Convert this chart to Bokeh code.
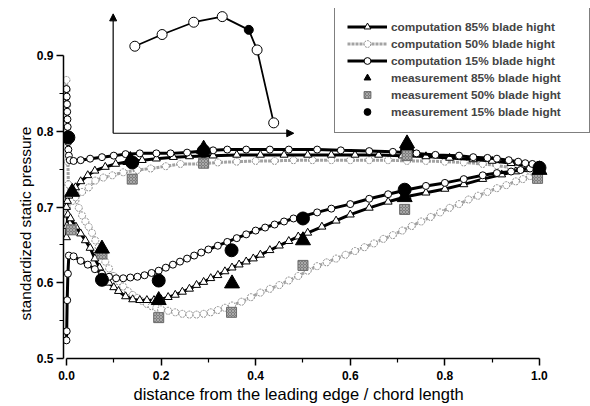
from bokeh.plotting import figure
from bokeh.models import (Range1d, FixedTicker, PrintfTickFormatter, Legend, LegendItem,
                          Title, Arrow, NormalHead)
from bokeh.embed import file_html
from bokeh.resources import INLINE

# ---------------- data ----------------
# computation 15% blade height, suction side (lower branch)
c15_lo_x = [0, 0.0005, 0.0015, 0.003, 0.005, 0.015, 0.03, 0.045, 0.06, 0.075, 0.09, 0.105, 0.12,
            0.135, 0.15, 0.165, 0.18, 0.195, 0.21, 0.225, 0.24, 0.255, 0.27, 0.285, 0.30, 0.32,
            0.34, 0.36, 0.38, 0.40, 0.42, 0.44, 0.46, 0.48, 0.50, 0.53, 0.56, 0.60, 0.64, 0.68,
            0.72, 0.76, 0.80, 0.84, 0.88, 0.91, 0.94, 0.96, 0.98, 1.0]
c15_lo_y = [0.524, 0.536, 0.577, 0.612, 0.636, 0.635, 0.629, 0.624, 0.618, 0.612, 0.608, 0.606,
            0.606, 0.607, 0.608, 0.610, 0.613, 0.616, 0.620, 0.624, 0.628, 0.632, 0.636, 0.640,
            0.644, 0.649, 0.654, 0.659, 0.664, 0.669, 0.673, 0.677, 0.681, 0.685, 0.688, 0.693,
            0.698, 0.704, 0.711, 0.717, 0.723, 0.728, 0.732, 0.737, 0.742, 0.745, 0.747, 0.749,
            0.751, 0.753]
# computation 15% blade height, pressure side (upper branch)
c15_up_x = [0, 0.0005, 0.001, 0.0015, 0.002, 0.0025, 0.003, 0.0035, 0.004, 0.005, 0.007, 0.015,
            0.03, 0.05, 0.075, 0.10, 0.125, 0.155, 0.19, 0.22, 0.255, 0.29, 0.31, 0.34, 0.38,
            0.43, 0.47, 0.53, 0.58, 0.64, 0.69, 0.74, 0.78, 0.83, 0.86, 0.89, 0.91, 0.935, 0.955,
            0.97, 0.985, 1.0]
c15_up_y = [0.856, 0.846, 0.836, 0.826, 0.816, 0.806, 0.796, 0.786, 0.776, 0.768, 0.762, 0.761,
            0.762, 0.764, 0.766, 0.768, 0.770, 0.771, 0.771, 0.771, 0.772, 0.774, 0.775, 0.776,
            0.776, 0.776, 0.776, 0.776, 0.775, 0.774, 0.773, 0.771, 0.769, 0.768, 0.766, 0.765,
            0.764, 0.762, 0.760, 0.758, 0.757, 0.756]

# computation 85% blade height
c85_lo_x = [0, 0.001, 0.003, 0.0085, 0.02, 0.03, 0.04, 0.05, 0.06, 0.07, 0.08, 0.09, 0.10, 0.11,
            0.125, 0.14, 0.155, 0.17, 0.185, 0.20, 0.215, 0.23, 0.245, 0.26, 0.275, 0.29, 0.305,
            0.32, 0.335, 0.35, 0.365, 0.38, 0.395, 0.41, 0.43, 0.45, 0.47, 0.49, 0.51, 0.54, 0.57,
            0.60, 0.64, 0.68, 0.72, 0.76, 0.80, 0.84, 0.88, 0.92, 0.95, 0.97, 0.985, 1.0]
c85_lo_y = [0.66, 0.675, 0.69, 0.685, 0.674, 0.665, 0.656, 0.646, 0.632, 0.620, 0.609, 0.600,
            0.594, 0.589, 0.582, 0.578, 0.577, 0.577, 0.577, 0.578, 0.581, 0.584, 0.588, 0.592,
            0.597, 0.601, 0.606, 0.610, 0.615, 0.620, 0.624, 0.628, 0.632, 0.637, 0.643, 0.649,
            0.655, 0.661, 0.666, 0.674, 0.682, 0.690, 0.699, 0.707, 0.714, 0.719, 0.724, 0.730,
            0.737, 0.743, 0.747, 0.750, 0.752, 0.753]
c85_up_x = [0, 0.002, 0.005, 0.01, 0.019, 0.03, 0.045, 0.06, 0.082, 0.104, 0.13, 0.16, 0.19,
            0.226, 0.26, 0.31, 0.36, 0.41, 0.46, 0.51, 0.56, 0.61, 0.66, 0.71, 0.76, 0.81, 0.86,
            0.90, 0.94, 0.97, 1.0]
c85_up_y = [0.70, 0.708, 0.715, 0.72, 0.726, 0.734, 0.742, 0.748, 0.753, 0.757, 0.760, 0.762,
            0.764, 0.766, 0.767, 0.768, 0.769, 0.769, 0.769, 0.769, 0.769, 0.769, 0.769, 0.768,
            0.767, 0.765, 0.763, 0.761, 0.758, 0.755, 0.753]

# computation 50% blade height
c50_lo_x = [0, 0.001, 0.003, 0.008, 0.019, 0.026, 0.033, 0.04, 0.047, 0.054, 0.061, 0.068, 0.075,
            0.082, 0.09, 0.10, 0.11, 0.12, 0.13, 0.14, 0.15, 0.16, 0.17, 0.18, 0.19, 0.20, 0.215,
            0.23, 0.245, 0.26, 0.275, 0.29, 0.305, 0.32, 0.335, 0.35, 0.37, 0.39, 0.41, 0.43,
            0.45, 0.47, 0.49, 0.51, 0.53, 0.55, 0.57, 0.59, 0.61, 0.63, 0.65, 0.67, 0.69, 0.71,
            0.73, 0.75, 0.77, 0.79, 0.81, 0.83, 0.85, 0.87, 0.89, 0.91, 0.93, 0.95, 0.965, 0.98,
            0.99, 1.0]
c50_lo_y = [0.69, 0.70, 0.708, 0.712, 0.709, 0.699, 0.689, 0.681, 0.674, 0.666, 0.656, 0.647,
            0.638, 0.628, 0.619, 0.609, 0.602, 0.595, 0.589, 0.584, 0.580, 0.576, 0.572, 0.569,
            0.567, 0.565, 0.563, 0.561, 0.559, 0.558, 0.558, 0.559, 0.561, 0.564, 0.567, 0.570,
            0.575, 0.581, 0.587, 0.592, 0.597, 0.603, 0.609, 0.616, 0.622, 0.627, 0.632, 0.637,
            0.642, 0.647, 0.652, 0.658, 0.663, 0.669, 0.675, 0.681, 0.687, 0.693, 0.699, 0.704,
            0.710, 0.715, 0.720, 0.725, 0.729, 0.734, 0.737, 0.741, 0.743, 0.745]
c50_up_x = [0, 0.0008, 0.0015, 0.002, 0.003, 0.004, 0.006, 0.012, 0.019, 0.033, 0.047, 0.061,
            0.078, 0.097, 0.12, 0.15, 0.178, 0.21, 0.241, 0.283, 0.32, 0.36, 0.40, 0.44, 0.48,
            0.52, 0.56, 0.60, 0.64, 0.68, 0.72, 0.76, 0.80, 0.84, 0.88, 0.91, 0.94, 0.96, 0.98, 1.0]
c50_up_y = [0.868, 0.855, 0.835, 0.80, 0.76, 0.73, 0.712, 0.708, 0.713, 0.72, 0.726, 0.735,
            0.739, 0.742, 0.746, 0.749, 0.751, 0.754, 0.757, 0.757, 0.759, 0.760, 0.761, 0.761,
            0.762, 0.762, 0.762, 0.762, 0.762, 0.762, 0.761, 0.761, 0.760, 0.759, 0.757, 0.755,
            0.752, 0.750, 0.748, 0.746]

# measurements
m85_x = [0.012, 0.075, 0.135, 0.195, 0.29, 0.35, 0.50, 0.715, 0.72, 1.0]
m85_y = [0.720, 0.645, 0.762, 0.577, 0.777, 0.599, 0.656, 0.713, 0.784, 0.749]
m50_x = [0.010, 0.075, 0.139, 0.195, 0.29, 0.349, 0.50, 0.715, 0.72, 0.996]
m50_y = [0.670, 0.638, 0.737, 0.554, 0.758, 0.561, 0.623, 0.697, 0.768, 0.738]
m15_x = [0.004, 0.075, 0.139, 0.195, 0.29, 0.349, 0.50, 0.715, 0.72, 1.0]
m15_y = [0.792, 0.604, 0.759, 0.603, 0.774, 0.643, 0.685, 0.723, 0.776, 0.752]

# inset sketch (own relative units 0..1)
inset_u = [0.120, 0.271, 0.446, 0.604, 0.751, 0.797, 0.889]
inset_v = [0.729, 0.827, 0.930, 0.977, 0.866, 0.698, 0.087]
inset_open_u = [0.120, 0.271, 0.446, 0.604, 0.797, 0.889]
inset_open_v = [0.729, 0.827, 0.930, 0.977, 0.698, 0.087]
inset_fill_u = [0.751]
inset_fill_v = [0.866]

x_ticks = [0.0, 0.2, 0.4, 0.6, 0.8, 1.0]
x_minor = [0.1, 0.3, 0.5, 0.7, 0.9]
y_ticks = [0.5, 0.6, 0.7, 0.8, 0.9]
y_minor = [0.55, 0.65, 0.75, 0.85]

labels = ["computation 85% blade hight", "computation 50% blade hight",
          "computation 15% blade hight", "measurement 85% blade hight",
          "measurement 50% blade hight", "measurement 15% blade hight"]
x_title = "distance from the leading edge / chord length"
y_title = "standardized static pressure"

# ---------------- layout ----------------
X_START, X_END = -0.0063, 1.1079
Y_START, Y_END = 0.5, 0.9624
# inset placement in main data coordinates
INSET_X0, INSET_W = 0.0987, 0.3818
INSET_Y0, INSET_H = 0.7976, 0.1577

FONT = "Liberation Sans"

p = figure(width=590, height=406, output_backend="svg", toolbar_location=None,
           x_range=Range1d(X_START, X_END), y_range=Range1d(Y_START, Y_END),
           min_border_left=63, min_border_right=0, min_border_top=8, min_border_bottom=48)
p.outline_line_color = None
p.grid.visible = False

for ax in (p.xaxis, p.yaxis):
    ax.axis_line_width = 1.5
    ax.major_tick_line_width = 1.5
    ax.minor_tick_line_width = 1.2
    ax.major_tick_in = 0
    ax.major_tick_out = 7
    ax.minor_tick_in = 0
    ax.minor_tick_out = 4
    ax.major_label_text_font = FONT
    ax.major_label_text_font_style = "bold"
    ax.major_label_text_font_size = "12px"
    ax.major_label_text_color = "black"
    ax.formatter = PrintfTickFormatter(format="%.1f")

p.xaxis.ticker = FixedTicker(ticks=x_ticks, minor_ticks=x_minor)
p.yaxis.ticker = FixedTicker(ticks=y_ticks, minor_ticks=y_minor)
p.xaxis.bounds = (x_ticks[0], x_ticks[-1])
p.yaxis.bounds = (y_ticks[0], y_ticks[-1])
p.xaxis.major_label_standoff = 5
p.yaxis.major_label_standoff = 3

p.add_layout(Title(text=x_title, align="left", offset=70, standoff=0,
                   text_font=FONT, text_font_style="normal", text_font_size="16.5px",
                   text_color="black"), "below")
p.add_layout(Title(text=y_title, align="left", offset=38, standoff=0,
                   text_font=FONT, text_font_style="normal", text_font_size="15.5px",
                   text_color="black"), "left")

# ---------------- computations ----------------
GREY = "#a3a3a3"
r50l = p.line(c50_lo_x, c50_lo_y, line_color=GREY, line_width=3, line_dash="3 1")
p.line(c50_up_x, c50_up_y, line_color=GREY, line_width=3, line_dash="3 1")
r50s = p.scatter(c50_lo_x, c50_lo_y, marker="circle", size=7, fill_color="white",
                 line_color="#8a8a8a", line_width=1, line_dash="2 1")
p.scatter(c50_up_x, c50_up_y, marker="circle", size=7, fill_color="white",
          line_color="#8a8a8a", line_width=1, line_dash="2 1")

r85l = p.line(c85_lo_x, c85_lo_y, line_color="black", line_width=3)
p.line(c85_up_x, c85_up_y, line_color="black", line_width=3)
r85s = p.scatter(c85_lo_x, c85_lo_y, marker="triangle", size=8, fill_color="white",
                 line_color="black", line_width=1)
p.scatter(c85_up_x, c85_up_y, marker="triangle", size=8, fill_color="white",
          line_color="black", line_width=1)

r15l = p.line(c15_lo_x, c15_lo_y, line_color="black", line_width=3)
p.line(c15_up_x, c15_up_y, line_color="black", line_width=3)
r15s = p.scatter(c15_lo_x, c15_lo_y, marker="circle", size=7, fill_color="white",
                 line_color="black", line_width=1)
p.scatter(c15_up_x, c15_up_y, marker="circle", size=7, fill_color="white",
          line_color="black", line_width=1)

# ---------------- measurements ----------------
rm15 = p.scatter(m15_x, m15_y, marker="circle", size=13, fill_color="black", line_color="black")
rm50 = p.scatter(m50_x, m50_y, marker="square", size=10, fill_color="#7d7d7d",
                 line_color="#6a6a6a", hatch_pattern="x", hatch_color="#b5b5b5",
                 hatch_scale=3, hatch_weight=0.8)
rm85 = p.scatter(m85_x, m85_y, marker="triangle", size=15, fill_color="black", line_color="black")

# ---------------- inset ----------------
p.extra_x_ranges["inset_x"] = Range1d((X_START - INSET_X0) / INSET_W, (X_END - INSET_X0) / INSET_W)
p.extra_y_ranges["inset_y"] = Range1d((Y_START - INSET_Y0) / INSET_H, (Y_END - INSET_Y0) / INSET_H)
p.add_layout(Arrow(x_start=0, y_start=0, x_end=1, y_end=0, x_range_name="inset_x",
                   y_range_name="inset_y", line_width=1.2, line_color="black",
                   end=NormalHead(size=7, fill_color="black", line_color="black")))
p.add_layout(Arrow(x_start=0, y_start=0, x_end=0, y_end=1, x_range_name="inset_x",
                   y_range_name="inset_y", line_width=1.2, line_color="black",
                   end=NormalHead(size=7, fill_color="black", line_color="black")))
p.line(inset_u, inset_v, x_range_name="inset_x", y_range_name="inset_y",
       line_color="black", line_width=1.8)
p.scatter(inset_open_u, inset_open_v, x_range_name="inset_x", y_range_name="inset_y",
          marker="circle", size=10, fill_color="white", line_color="black", line_width=1)
p.scatter(inset_fill_u, inset_fill_v, x_range_name="inset_x", y_range_name="inset_y",
          marker="circle", size=9, fill_color="black", line_color="black")

# ---------------- legend ----------------
items = [
    LegendItem(label=labels[0], renderers=[r85l, r85s]),
    LegendItem(label=labels[1], renderers=[r50l, r50s]),
    LegendItem(label=labels[2], renderers=[r15l, r15s]),
    LegendItem(label=labels[3], renderers=[rm85]),
    LegendItem(label=labels[4], renderers=[rm50]),
    LegendItem(label=labels[5], renderers=[rm15]),
]
legend = Legend(items=items, location=(271, 225), border_line_color="black",
                border_line_width=1, padding=12, spacing=0, glyph_width=40, glyph_height=17,
                label_height=17, label_standoff=4, label_width=186, margin=0,
                label_text_font=FONT, label_text_font_style="bold",
                label_text_font_size="11.8px", background_fill_alpha=1.0)
p.add_layout(legend)

open("out.html", "w").write(file_html(p, INLINE))
